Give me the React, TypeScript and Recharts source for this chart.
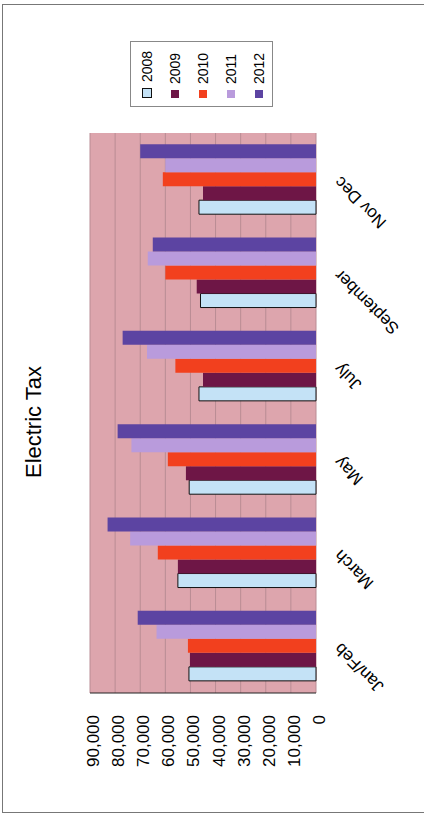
import React from 'react';
import { BarChart, Bar, XAxis, YAxis, CartesianGrid } from 'recharts';

// values (the scan is turned on its side)
const categories = ['Jan/Feb', 'March', 'May', 'July', 'September', 'Nov Dec'];
const tax2008 = [50600, 55000, 50500, 46600, 46000, 46600];
const tax2009 = [50200, 55000, 51800, 45000, 47500, 45000];
const tax2010 = [51000, 63000, 59000, 56000, 60000, 61000];
const tax2011 = [63500, 74000, 73500, 67300, 67000, 60000];
const tax2012 = [71000, 83000, 79000, 77000, 65000, 70000];
const years = ['2008', '2009', '2010', '2011', '2012'];
const valueTicks = [0, 10000, 20000, 30000, 40000, 50000, 60000, 70000, 80000, 90000];

const colors = ['#c4e2f6', '#6e1646', '#f2401e', '#b99bdc', '#5c44a2'];
const FONT = '"Liberation Sans", Arial, sans-serif';

const data = categories.map((name, i) => ({
  name,
  '2008': tax2008[i],
  '2009': tax2009[i],
  '2010': tax2010[i],
  '2011': tax2011[i],
  '2012': tax2012[i],
}));

const fmt = (v: number) => v.toLocaleString('en-US');

// slanted month label, right end sits under the group centre
const MonthTick = (props: any) => {
  const { x, y, payload } = props;
  return (
    <g transform={`translate(${x},${y})`}>
      <text transform="rotate(-45)" textAnchor="end" dy="0.35em" fontSize={17} fill="#000" fontFamily={FONT}>
        {payload.value}
      </text>
    </g>
  );
};

export default function App() {
  return (
    <div style={{ position: 'fixed', left: 0, top: 0, width: 424, height: 821, overflow: 'hidden', background: '#fff' }}>
      {/* chart laid out upright, then turned a quarter left like the scan */}
      <div
        style={{
          position: 'absolute',
          left: 0,
          top: 0,
          width: 821,
          height: 424,
          transformOrigin: '0 0',
          transform: 'translateY(821px) rotate(-90deg)',
          fontFamily: FONT,
        }}
      >
        <div style={{ position: 'absolute', left: 8, top: 2, width: 807, height: 440, border: '1px solid #777' }} />
        <div style={{ position: 'absolute', left: 199, top: 21, width: 400, textAlign: 'center', fontSize: 22, color: '#000' }}>
          Electric Tax
        </div>
        <div style={{ position: 'absolute', left: 0, top: 0 }}>
          <BarChart
            width={821}
            height={424}
            data={data}
            margin={{ top: 90, right: 133, bottom: 48, left: 0 }}
            barCategoryGap="13%"
            barGap={0}
          >
            <CartesianGrid vertical={false} fill="#dda5ad" stroke="#b98c94" />
            <XAxis
              dataKey="name"
              height={60}
              axisLine={false}
              tickLine={false}
              tickSize={0}
              tickMargin={21}
              interval={0}
              tick={<MonthTick />}
            />
            <YAxis
              width={128}
              domain={[0, 90000]}
              ticks={valueTicks}
              tickFormatter={fmt}
              axisLine={{ stroke: '#222' }}
              tickLine={false}
              tickSize={0}
              tickMargin={22}
              tick={{ fontSize: 17, fill: '#000', fontFamily: FONT, dy: 3 }}
            />
            {years.map((y, i) => (
              <Bar
                key={y}
                dataKey={y}
                fill={colors[i]}
                stroke={i === 0 ? '#111' : 'none'}
                strokeWidth={1}
                isAnimationActive={false}
              />
            ))}
          </BarChart>
        </div>
        <div
          style={{
            position: 'absolute',
            left: 714,
            top: 130,
            width: 66,
            height: 143,
            border: '1px solid #888',
            background: '#fff',
            boxSizing: 'border-box',
            paddingTop: 2,
          }}
        >
          {years.map((y, i) => (
            <div key={y} style={{ display: 'flex', alignItems: 'center', height: 28, fontSize: 14, color: '#000' }}>
              <span
                style={{
                  display: 'inline-block',
                  width: 8,
                  height: 8,
                  marginLeft: 8,
                  marginRight: 6,
                  background: colors[i],
                  border: i === 0 ? '1px solid #111' : 'none',
                }}
              />
              {y}
            </div>
          ))}
        </div>
      </div>
    </div>
  );
}
